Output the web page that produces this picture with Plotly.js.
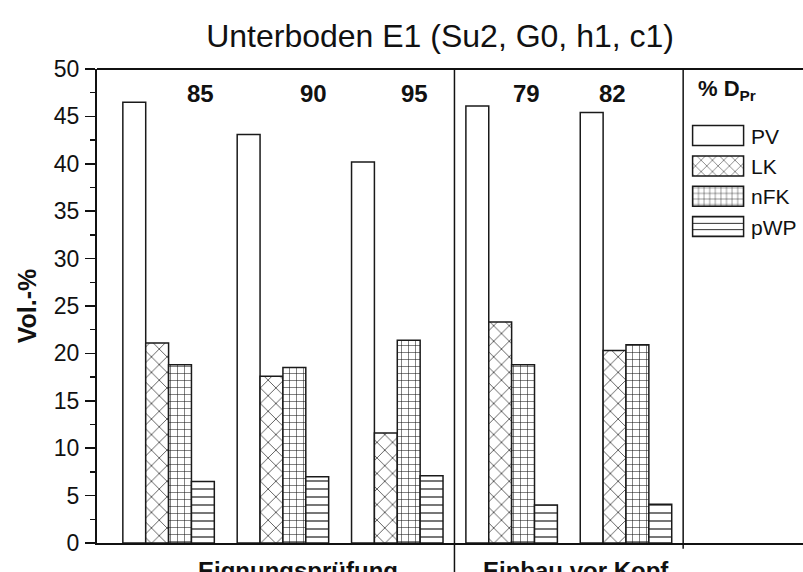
<!DOCTYPE html>
<html>
<head>
<meta charset="utf-8">
<script src="https://cdn.plot.ly/plotly-3.0.1.min.js"></script>
<style>html,body{margin:0;padding:0;background:#fff;}#chart{width:803px;height:572px;}</style>
</head>
<body>
<div id="chart"></div>
<script>
// ---- data ----
const compaction = ["85", "90", "95", "79", "82"];          // % D_Pr
const phases = ["Eignungsprüfung", "Einbau vor Kopf"];
const seriesNames = ["PV", "LK", "nFK", "pWP"];
const PV  = [46.5, 43.1, 40.2, 46.1, 45.4];
const LK  = [21.1, 17.6, 11.6, 23.3, 20.3];
const nFK = [18.8, 18.5, 21.4, 18.8, 20.9];
const pWP = [6.5, 7.0, 7.1, 4.0, 4.1];
const yTicks = [0, 5, 10, 15, 20, 25, 30, 35, 40, 45, 50];

// ---- styling ----
const FONT = "Liberation Sans, Arial, Helvetica, sans-serif";
const patterns = [
  {shape: "", size: 8, solidity: 0.1},
  {shape: "x", size: 11, solidity: 0.12},
  {shape: "+", size: 7, solidity: 0.15},
  {shape: "-", size: 8, solidity: 0.15}
];
const values = [PV, LK, nFK, pWP];
const xIdx = compaction.map((_, i) => i);

const traces = seriesNames.map((name, k) => ({
  type: "bar",
  name: name,
  legendgroup: name,
  x: xIdx,
  y: values[k],
  marker: {
    color: "#ffffff",
    line: {color: "#1a1a1a", width: 1.5},
    pattern: {shape: patterns[k].shape, size: patterns[k].size, solidity: patterns[k].solidity,
              fgcolor: "#1a1a1a", bgcolor: "#ffffff", fillmode: "replace"}
  },
  hoverinfo: "skip"
}));

// label positions (layout only)
const labelX = [0.28, 1.27, 2.15, 3.13, 3.88];
const annotations = compaction.map((c, i) => ({
  text: "<b>" + c + "</b>", x: labelX[i], y: 47.4, xref: "x", yref: "y",
  showarrow: false, xanchor: "center", yanchor: "middle",
  font: {family: FONT, size: 24, color: "#111"}
}));
const phaseX = [0.242, 2.735];
phases.forEach((p, i) => annotations.push({
  text: "<b>" + p + "</b>", x: phaseX[i], y: -0.0253, xref: "x", yref: "paper",
  showarrow: false, xanchor: "left", yanchor: "top",
  font: {family: FONT, size: 24, color: "#111"}
}));
// legend heading
annotations.push({
  text: "<b>% D<sub>Pr</sub></b>", x: 0.849, y: 0.955, xref: "paper", yref: "paper",
  showarrow: false, xanchor: "left", yanchor: "middle",
  font: {family: FONT, size: 22, color: "#111"}
});

const layout = {
  width: 803, height: 572,
  margin: {l: 97, r: 0, t: 69, b: 29},
  paper_bgcolor: "#fff", plot_bgcolor: "#fff",
  font: {family: FONT, color: "#111"},
  title: {text: "Unterboden E1 (Su2, G0, h1, c1)", font: {family: FONT, size: 32, color: "#111"},
          x: 0.548, xref: "container", xanchor: "center", y: 1 - 36 / 572, yref: "container", yanchor: "middle"},
  barmode: "group", bargap: 0.2, bargroupgap: 0,
  xaxis: {range: [-0.626, 5.548], showticklabels: false, ticks: "", showgrid: false, zeroline: false,
          showline: true, linecolor: "#111", linewidth: 2, fixedrange: true},
  yaxis: {range: [0, 50], tickvals: yTicks, ticks: "outside", ticklen: 10, tickwidth: 1.5, tickcolor: "#111",
          minor: {dtick: 2.5, tick0: 0, ticks: "outside", ticklen: 5, tickwidth: 1.5, tickcolor: "#111", showgrid: false},
          showgrid: false, zeroline: false, showline: true, linecolor: "#111", linewidth: 2,
          tickfont: {family: FONT, size: 23, color: "#111"}, ticklabelstandoff: 1,
          title: {text: "<b>Vol.-%</b>", font: {family: FONT, size: 25, color: "#111"}, standoff: 10}, fixedrange: true},
  showlegend: true,
  legend: {x: 0.833, y: 0.902, xanchor: "left", yanchor: "top", bgcolor: "rgba(0,0,0,0)", borderwidth: 0,
           font: {family: FONT, size: 21, color: "#111"}, itemwidth: 56, tracegroupgap: 1, traceorder: "normal"},
  shapes: [
    {type: "line", xref: "paper", yref: "paper", x0: 0, x1: 1, y0: 1, y1: 1, line: {color: "#111", width: 2}},
    {type: "line", xref: "x", yref: "paper", x0: 2.5, x1: 2.5, y0: -0.07, y1: 1, line: {color: "#111", width: 1.5}},
    {type: "line", xref: "x", yref: "paper", x0: 4.5, x1: 4.5, y0: -0.012, y1: 1, line: {color: "#111", width: 1.5}}
  ],
  annotations: annotations
};

Plotly.newPlot("chart", traces, layout, {staticPlot: true, displayModeBar: false}).then(gd => {
  // enlarge legend swatches to wide boxes like the reference
  gd.querySelectorAll(".legend .legendpoints path").forEach(p => {
    p.setAttribute("d", "M-25.5,-10H25.5V10H-25.5Z");
  });
});
</script>
</body>
</html>
